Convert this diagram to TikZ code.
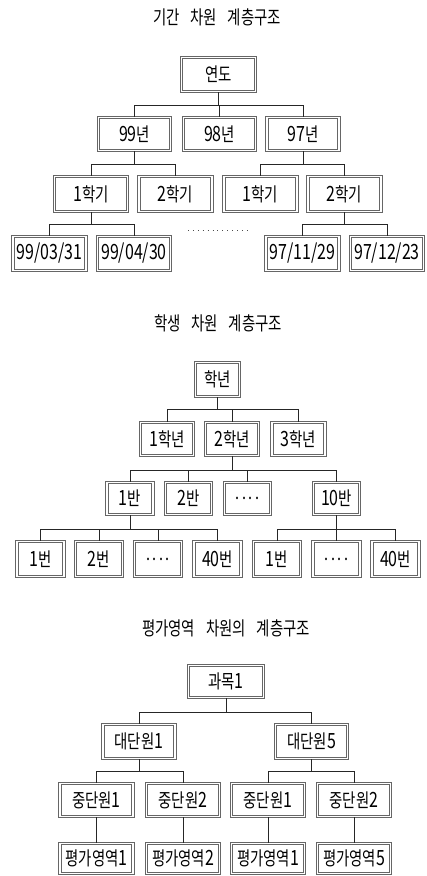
\documentclass[tikz,border=0pt]{standalone}
\usepackage{fontspec}
\newfontfamily\kr{Noto Sans CJK KR}
\newcommand\lbl[1]{\scalebox{0.76}[1]{#1}}
\newcommand\dg[1]{{\fontsize{21}{21}\selectfont #1}}
\newcommand\wsp{\hspace{0.75em}}
\newcommand\dts{.\hspace{0.18em}.\hspace{0.18em}.\hspace{0.18em}.}
\begin{document}
\begin{tikzpicture}[x=1pt,y=-1pt,
  box/.style={draw=black!60, line width=1.1pt, double=white, double distance=1.1pt,
    inner sep=0pt, font=\kr\fontsize{19}{19}\selectfont},
  ttl/.style={inner sep=0pt, font=\kr\fontsize{19}{19}\selectfont},
  conn/.style={draw=black!85, line width=0.7pt},
  dotline/.style={draw=black!70, line width=1pt, dash pattern=on 1pt off 3.9pt}]
\useasboundingbox (0,0) rectangle (426,876);
\fill[white] (0,0) rectangle (426,876);

% ---------- tree 1 ----------
\node[ttl] (t1) at (217,17) {\lbl{기간\wsp 차원\wsp 계층구조}};
\node[box, minimum width=74pt, minimum height=34pt] (a0) at (218.5,74.5) {\lbl{연도}};
\begin{scope}[every node/.append style={box, minimum width=72pt, minimum height=33pt}]
\node (a1) at (134.5,134) {\lbl{\dg{99}년}};
\node (a2) at (219.5,134) {\lbl{\dg{98}년}};
\node (a3) at (303,134) {\lbl{\dg{97}년}};
\end{scope}
\begin{scope}[every node/.append style={box, minimum width=73pt, minimum height=35pt}]
\node (a11) at (91,194) {\lbl{\dg{1}학기}};
\node (a12) at (175.5,194) {\lbl{\dg{2}학기}};
\node (a31) at (260.5,194) {\lbl{\dg{1}학기}};
\node (a32) at (344.5,194) {\lbl{\dg{2}학기}};
\end{scope}
\begin{scope}[every node/.append style={box, minimum width=73pt, minimum height=34pt}]
\node (a111) at (49.5,253.5) {\lbl{\dg{99/03/31}}};
\node (a112) at (134,253.5) {\lbl{\dg{99/04/30}}};
\node (a321) at (302.5,253.5) {\lbl{\dg{97/11/29}}};
\node (a322) at (387,253.5) {\lbl{\dg{97/12/23}}};
\end{scope}
\coordinate (ba0) at (218.5,105);
\coordinate (ba1) at (134.5,164);
\coordinate (ba3) at (303,164);
\coordinate (ba11) at (91,224);
\coordinate (ba32) at (344.5,224);
\draw[conn] (a0.south) -- (ba0);
\draw[conn] (a1.north) |- (ba0);
\draw[conn] (a2.north) |- (ba0);
\draw[conn] (a3.north) |- (ba0);
\draw[conn] (a1.south) -- (ba1);
\draw[conn] (a11.north) |- (ba1);
\draw[conn] (a12.north) |- (ba1);
\draw[conn] (a3.south) -- (ba3);
\draw[conn] (a31.north) |- (ba3);
\draw[conn] (a32.north) |- (ba3);
\draw[conn] (a11.south) -- (ba11);
\draw[conn] (a111.north) |- (ba11);
\draw[conn] (a112.north) |- (ba11);
\draw[conn] (a32.south) -- (ba32);
\draw[conn] (a321.north) |- (ba32);
\draw[conn] (a322.north) |- (ba32);
\coordinate (d1) at (188,230.5);
\coordinate (d2) at (249,230.5);
\draw[dotline] (d1) -- (d2);

% ---------- tree 2 ----------
\node[ttl] (t2) at (218,323) {\lbl{학생\wsp 차원\wsp 계층구조}};
\node[box, minimum width=44pt, minimum height=34pt] (b0) at (217.5,379.5) {\lbl{학년}};
\begin{scope}[every node/.append style={box, minimum width=53pt, minimum height=33pt}]
\node (b1) at (167,439) {\lbl{\dg{1}학년}};
\node (b2) at (232,439) {\lbl{\dg{2}학년}};
\node (b3) at (298.5,439) {\lbl{\dg{3}학년}};
\end{scope}
\begin{scope}[every node/.append style={box, minimum width=46pt, minimum height=32pt}]
\node (b21) at (130,498.5) {\lbl{\dg{1}반}};
\node (b22) at (188.5,498.5) {\lbl{\dg{2}반}};
\node (b23) at (247.5,498.5) {\lbl{\dts}};
\node (b24) at (336.5,498.5) {\lbl{\dg{10}반}};
\end{scope}
\begin{scope}[every node/.append style={box, minimum width=47pt, minimum height=35pt}]
\node (b211) at (40.5,559) {\lbl{\dg{1}번}};
\node (b212) at (99,559) {\lbl{\dg{2}번}};
\node (b213) at (158,559) {\lbl{\dts}};
\node (b214) at (217.5,559) {\lbl{\dg{40}번}};
\node (b241) at (277,559) {\lbl{\dg{1}번}};
\node (b242) at (336.5,559) {\lbl{\dts}};
\node (b243) at (395.5,559) {\lbl{\dg{40}번}};
\end{scope}
\coordinate (bb0) at (217.5,409);
\coordinate (bb2) at (232,470);
\coordinate (bb21) at (130,529);
\coordinate (bb24) at (336.5,529);
\draw[conn] (b0.south) -- (bb0);
\draw[conn] (b1.north) |- (bb0);
\draw[conn] (b2.north) |- (bb0);
\draw[conn] (b3.north) |- (bb0);
\draw[conn] (b2.south) -- (bb2);
\draw[conn] (b21.north) |- (bb2);
\draw[conn] (b22.north) |- (bb2);
\draw[conn] (b23.north) |- (bb2);
\draw[conn] (b24.north) |- (bb2);
\draw[conn] (b21.south) -- (bb21);
\draw[conn] (b211.north) |- (bb21);
\draw[conn] (b212.north) |- (bb21);
\draw[conn] (b213.north) |- (bb21);
\draw[conn] (b214.north) |- (bb21);
\draw[conn] (b24.south) -- (bb24);
\draw[conn] (b241.north) |- (bb24);
\draw[conn] (b242.north) |- (bb24);
\draw[conn] (b243.north) |- (bb24);

% ---------- tree 3 ----------
\node[ttl] (t3) at (226,628) {\lbl{평가영역\wsp 차원의\wsp 계층구조}};
\node[box, minimum width=75pt, minimum height=32pt] (c0) at (226,681.5) {\lbl{과목\dg{1}}};
\begin{scope}[every node/.append style={box, minimum width=72pt, minimum height=34pt}]
\node (c1) at (139,741.5) {\lbl{대단원\dg{1}}};
\node (c2) at (311.5,741.5) {\lbl{대단원\dg{5}}};
\end{scope}
\begin{scope}[every node/.append style={box, minimum width=73pt, minimum height=33pt}]
\node (c11) at (96.5,800) {\lbl{중단원\dg{1}}};
\node (c12) at (183,800) {\lbl{중단원\dg{2}}};
\node (c21) at (268,800) {\lbl{중단원\dg{1}}};
\node (c22) at (354,800) {\lbl{중단원\dg{2}}};
\end{scope}
\begin{scope}[every node/.append style={box, minimum width=73pt, minimum height=30pt}]
\node (c111) at (96.5,858.5) {\lbl{평가영역\dg{1}}};
\node (c121) at (183,858.5) {\lbl{평가영역\dg{2}}};
\node (c211) at (268,858.5) {\lbl{평가영역\dg{1}}};
\node (c221) at (354,858.5) {\lbl{평가영역\dg{5}}};
\end{scope}
\coordinate (bc0) at (226,712);
\coordinate (bc1) at (139,771);
\coordinate (bc2) at (311.5,771);
\draw[conn] (c0.south) -- (bc0);
\draw[conn] (c1.north) |- (bc0);
\draw[conn] (c2.north) |- (bc0);
\draw[conn] (c1.south) -- (bc1);
\draw[conn] (c11.north) |- (bc1);
\draw[conn] (c12.north) |- (bc1);
\draw[conn] (c2.south) -- (bc2);
\draw[conn] (c21.north) |- (bc2);
\draw[conn] (c22.north) |- (bc2);
\draw[conn] (c11.south) -- (c111.north);
\draw[conn] (c12.south) -- (c121.north);
\draw[conn] (c21.south) -- (c211.north);
\draw[conn] (c22.south) -- (c221.north);
\end{tikzpicture}
\end{document}
